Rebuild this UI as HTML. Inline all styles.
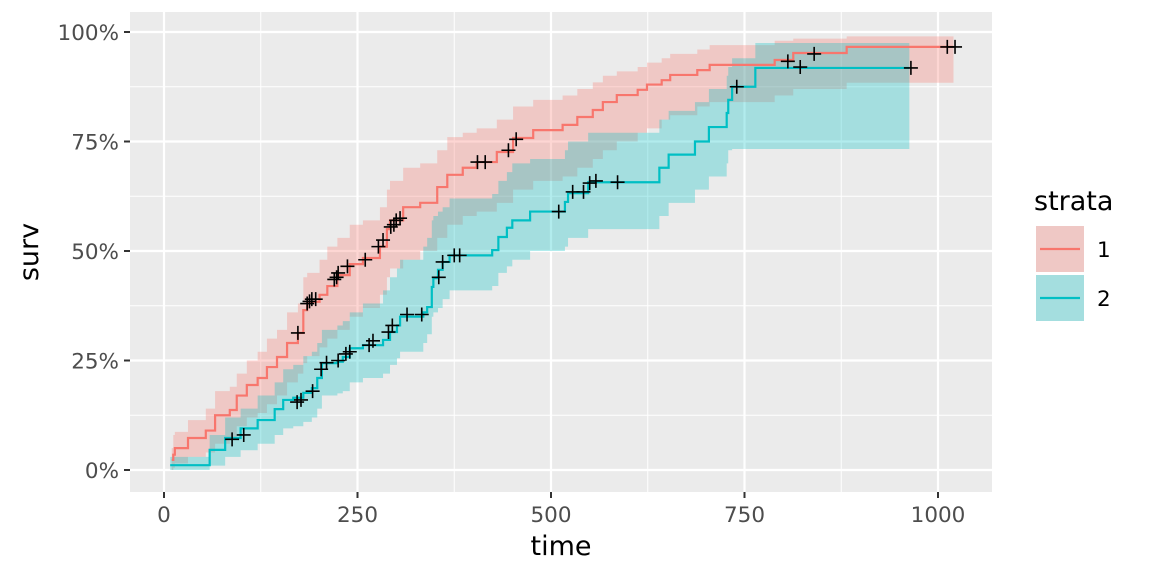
<!DOCTYPE html>
<html><head><meta charset="utf-8"><style>
body{margin:0;background:#fff;}
svg{display:block;font-family:"DejaVu Sans","Liberation Sans",sans-serif;}
</style></head><body>
<svg id="chart" width="1152" height="576"></svg>
<script>
const redT=[10,12,14,31,54,66,85,94,107,121,133,146,159,173,180,185,201,211,224,240,257,279,288,292,309,331,353,366,386,404,430,451,477,515,534,554,567,585,612,624,643,654,689,705,789,813,882];
const redV=[2.3,3.5,5,7.3,9,12.5,13.7,17,19.4,21,23.5,25.8,29,31.3,36.5,38.4,40,42,44.5,47,48.4,51,55,57,60,61,64.6,67.4,69,70.3,72.6,75.8,77.6,78.8,80.6,82.2,84,85.6,86.8,88,89,90.2,91.3,92.5,93.6,95.2,96.6];
const redU=[5,8,8.7,11.4,14,18,19,22,25,27,30,32,36,38,44,45,48,51,53,56,57,60,64,66,69,70,73,76,77,78,80,83,84.5,85.5,87,88.5,90,91,92,93,94,95,96,97,98,98.5,99];
const redL=[0,0.5,1.5,3,4,6,7,10,12,13,15,17,20,22,24.4,26,28,30,32,35,37,40,44,46,48,50,53,56,58,59,61,64,66,67,69,71,73,75,77,78,80,81,83,84,85.5,87,88.4];
const redEnd=1020;
const tealT=[8,59,79,99,121,143,154,167,180,191,198,204,224,231,240,257,283,292,301,305,335,340,346,348,354,360,369,424,432,443,450,473,518,522,548,640,652,686,704,727,729,734,764];
const tealV=[1.1,4.6,7.3,9.5,11.4,13.9,16,16.5,17.6,18.7,21,24.4,24.7,25.8,27.8,28.5,29.7,31.5,33,35,36,37.2,41.8,43.8,45.7,47.5,49,50.2,53.2,55.3,57,59,61.2,63.2,65.7,69,72,75,78.3,81.5,84.5,87.5,91.8];
const tealU=[3,8,12,14,17,20,23,24,26,27,29,32,33,34,36,38,41,44,46,48,51,53,57,58,59,60,62,63,66,68,70,71,73,75,77,80,82,84,87,90,92,94,97.5];
const tealL=[0,1,3,4.5,6,8,9.5,10,11,12,14,17,17.5,18,20,21,22,24,25.5,27,29,31,35,36,37,39,41,42,45,46.5,48,50,51,53,55,58,61,64,67,70,73,73.3,73.3];
const tealEnd=963;
const redCensT=[173,185,188,191,196,220,223,225,237,260,277,283,293,297,300,305,405,415,445,455,806,822,840,1012,1022];
const redCensV=[31.3,38,38.5,39,39,43.5,44,45,46.5,48,51,52.5,55.5,56,57,57.5,70.3,70.3,73,75.5,93.3,92,95,96.6,96.6];
const tealCensT=[88,103,172,177,192,203,210,225,235,240,265,270,290,295,314,333,355,360,375,382,510,528,542,550,558,586,740,965];
const tealCensV=[7,8,15.5,16,18,23,24.5,25,26.5,27,28.5,29.5,31.5,33,35.5,35.5,44,47.5,49,49,59,63.5,63.5,65.5,66,65.7,87.5,91.8];
const xTicks=[0,250,500,750,1000];
const yTicks=[0,25,50,75,100];
const yTickLabels=["0%","25%","50%","75%","100%"];

const NS="http://www.w3.org/2000/svg";
const svg=document.getElementById('chart');
const PX0=130,PX1=992,PY0=12,PY1=492;
const X=t=>164+t*0.774;
const Y=v=>470-v*4.38;
function mk(tag,attrs,parent){const e=document.createElementNS(NS,tag);for(const k in attrs)e.setAttribute(k,attrs[k]);(parent||svg).appendChild(e);return e;}

const panel=mk('rect',{x:PX0,y:PY0,width:PX1-PX0,height:PY1-PY0,fill:'#ebebeb'});


for(let i=0;i<xTicks.length-1;i++){const x=X((xTicks[i]+xTicks[i+1])/2);const l=mk('line',{x1:x,x2:x,y1:PY0,y2:PY1,stroke:'#fff','stroke-width':1});

}
for(let i=0;i<yTicks.length-1;i++){const y=Y((yTicks[i]+yTicks[i+1])/2);const l=mk('line',{x1:PX0,x2:PX1,y1:y,y2:y,stroke:'#fff','stroke-width':1});

}
xTicks.forEach(t=>{const x=X(t);const l=mk('line',{x1:x,x2:x,y1:PY0,y2:PY1,stroke:'#fff','stroke-width':2.2});


mk('line',{x1:x,x2:x,y1:PY1,y2:PY1+6,stroke:'#333','stroke-width':2});
const tx=mk('text',{x:x,y:PY1+30,'text-anchor':'middle','font-size':21.5,fill:'#4d4d4d'});tx.textContent=t;

});
yTicks.forEach((v,i)=>{const y=Y(v);const l=mk('line',{x1:PX0,x2:PX1,y1:y,y2:y,stroke:'#fff','stroke-width':2.2});


mk('line',{x1:PX0-6,x2:PX0,y1:y,y2:y,stroke:'#333','stroke-width':2});
const tx=mk('text',{x:PX0-11,y:y+8,'text-anchor':'end','font-size':21.5,fill:'#4d4d4d'});tx.textContent=yTickLabels[i];

});

function stepPath(T,V,end){let d=`M${X(T[0])},${Y(V[0])}`;for(let i=1;i<T.length;i++){d+=`H${X(T[i])}V${Y(V[i])}`;}d+=`H${X(end)}`;return d;}
function bandPath(T,U,L,end){let d=`M${X(T[0])},${Y(U[0])}`;for(let i=1;i<T.length;i++){d+=`H${X(T[i])}V${Y(U[i])}`;}d+=`H${X(end)}V${Y(L[L.length-1])}`;for(let i=T.length-1;i>0;i--){d+=`H${X(T[i])}V${Y(L[i-1])}`;}d+=`H${X(T[0])}Z`;return d;}

const bR=mk('path',{d:bandPath(redT,redU,redL,redEnd),fill:'#F8766D','fill-opacity':0.3});


const bT=mk('path',{d:bandPath(tealT,tealU,tealL,tealEnd),fill:'#00BFC4','fill-opacity':0.3});


const lR=mk('path',{d:stepPath(redT,redV,redEnd),fill:'none',stroke:'#F8766D','stroke-width':2.2});


const lT=mk('path',{d:stepPath(tealT,tealV,tealEnd),fill:'none',stroke:'#00BFC4','stroke-width':2.2});



function cens(T,V,name){for(let i=0;i<T.length;i++){const x=X(T[i]),y=Y(V[i]);const g=mk('path',{d:`M${x-7},${y}H${x+7}M${x},${y-7}V${y+7}`,stroke:'#000','stroke-width':1.6});

}}
cens(redCensT,redCensV,'strata-1-censor-mark');
cens(tealCensT,tealCensV,'strata-2-censor-mark');

const xt=mk('text',{x:561,y:555,'text-anchor':'middle','font-size':27,fill:'#000'});xt.textContent='time';


const yt=mk('text',{x:38,y:252,'text-anchor':'middle','font-size':27,fill:'#000',transform:'rotate(-90 38 252)'});yt.textContent='surv';



const lg=mk('text',{x:1034,y:210,'font-size':27,fill:'#000'});lg.textContent='strata';


[['1','#F8766D',226],['2','#00BFC4',275]].forEach(([lab,c,y])=>{
const g=mk('g',{});


mk('rect',{x:1036,y:y,width:48,height:46,fill:'#ebebeb'},g);
mk('rect',{x:1036,y:y,width:48,height:46,fill:c,'fill-opacity':0.3},g);
mk('line',{x1:1040,x2:1080,y1:y+23,y2:y+23,stroke:c,'stroke-width':2.2},g);
const t=mk('text',{x:1097,y:y+31,'font-size':21.5,fill:'#000'},g);t.textContent=lab;});
</script>
</body></html>
